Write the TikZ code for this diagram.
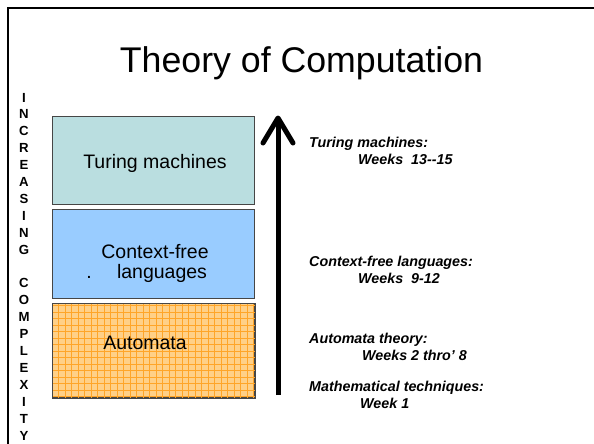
\documentclass[tikz,border=0pt]{standalone}
\usepackage{fontspec}
\setmainfont{Liberation Sans}
\definecolor{tmfill}{RGB}{186,222,224}
\definecolor{cffill}{RGB}{153,204,255}
\definecolor{aufill}{RGB}{255,208,135}
\definecolor{augrid}{RGB}{255,165,40}
\definecolor{boxline}{RGB}{70,70,70}
\tikzset{
  layerbox/.style={draw=boxline, line width=1pt, minimum width=202pt, inner sep=0pt, anchor=north west},
  boxtext/.style={font=\fontsize{19.5}{22}\selectfont, inner sep=0pt},
  sidetext/.style={font=\fontsize{14.3}{16}\selectfont\bfseries\itshape, inner sep=0pt, anchor=base west},
  vletter/.style={font=\fontsize{13.2}{14}\selectfont\bfseries, inner sep=0pt, anchor=base},
}
\begin{document}
\begin{tikzpicture}[x=1pt,y=-1pt]
\useasboundingbox (0,0) rectangle (594,444);
% frame
\draw[line width=2pt] (8,444) -- (8,8) -- (594,8);
% title
\node[font=\fontsize{35.7}{40}\selectfont, inner sep=0pt, anchor=base] (title) at (301.5,73) {Theory of Computation};
% vertical letters
\foreach \ch [count=\i from 0] in {I,N,C,R,E,A,S,I,N,G,{},C,O,M,P,L,E,X,I,T,Y}{
  \node[vletter] (v\i) at (24,{102+\i*16.9}) {\ch};
}
% boxes
\node[layerbox, fill=tmfill, minimum height=88pt] (tm) at (52,116) {};
\node[layerbox, fill=cffill, minimum height=89pt] (cf) at (52,209) {};
\node[layerbox, fill=aufill, minimum height=94pt] (au) at (52,303) {};
\begin{scope}
  \clip (au.south west) rectangle (au.north east);
  \draw[augrid, line width=0.9pt, step=6.5pt] (52,303) grid (260,400);
\end{scope}
\draw[boxline, line width=1pt] (au.south west) rectangle (au.north east);
% box texts
\node[boxtext] (tmt) at (155,163) {Turing machines};
\node[boxtext] (cft1) at (155,252) {Context-free};
\node[boxtext, anchor=base] (cft2) at (162,278) {languages};
\node[boxtext, anchor=base] (dot) at (89,278) {.};
\node[boxtext] (aut) at (145,343) {Automata};
% arrow
\coordinate (abot) at (278,395);
\coordinate (atop) at (278,118);
\draw[line width=5pt] (abot) -- ([yshift=-3pt]atop);
\draw[line width=5pt, line cap=round, line join=round] ([xshift=-15pt,yshift=-25pt]atop) -- (atop) -- ([xshift=15pt,yshift=-25pt]atop);
% side texts
\node[sidetext] (s1) at (309,147) {Turing machines:};
\node[sidetext] (s1b) at (358,164) {Weeks\ \ 13-{}-15};
\node[sidetext] (s2) at (309,266) {Context-free languages:};
\node[sidetext] (s2b) at (358,283) {Weeks\ \ 9-12};
\node[sidetext] (s3) at (309,343) {Automata theory:};
\node[sidetext] (s3b) at (362,360) {Weeks 2 thro’ 8};
\node[sidetext] (s4) at (309,391) {Mathematical techniques:};
\node[sidetext] (s4b) at (360,408) {Week 1};
\end{tikzpicture}
\end{document}
